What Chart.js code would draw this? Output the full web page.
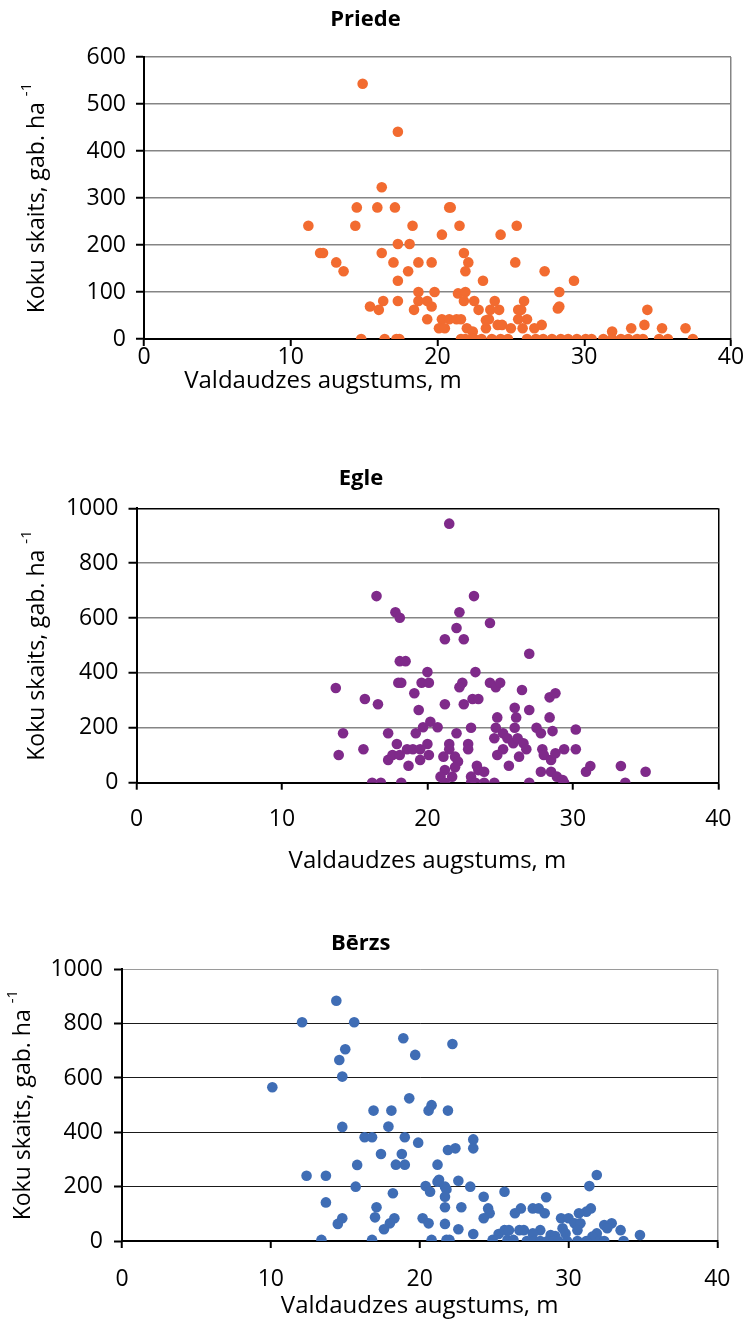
<!DOCTYPE html>
<html>
<head>
<meta charset="utf-8">
<script src="https://cdn.jsdelivr.net/npm/chart.js@4"></script>
<style>
  html, body { margin: 0; padding: 0; background: #fff; }
  #wrap { position: relative; width: 750px; height: 1321px; }
  canvas { position: absolute; left: 0; }
</style>
</head>
<body>
<div id="wrap">
  <canvas id="c1" width="750" height="400" style="top:0px"></canvas>
  <canvas id="c2" width="750" height="440" style="top:440px"></canvas>
  <canvas id="c3" width="750" height="411" style="top:910px"></canvas>
</div>
<script>
// Priede (pine)
const prX = [14.9, 17.3, 16.2, 14.5, 15.9, 17.1, 20.8, 20.9, 11.2, 14.4, 18.3, 21.5, 25.4, 20.3, 24.3,
  17.3, 18.1, 12.0, 12.2, 16.2, 21.8, 13.1, 17.0, 18.7, 19.6, 22.1, 25.3, 13.6, 18.0, 21.9, 27.3,
  17.3, 23.1, 29.3, 18.7, 19.8, 21.4, 21.9, 28.3, 28.2, 28.3, 16.3, 17.3, 18.7, 19.3, 21.8, 22.5,
  23.9, 25.9, 15.4, 16.0, 18.4, 19.6, 22.8, 23.6, 24.2, 25.5, 25.7, 19.3, 20.3, 20.8, 21.3, 21.6,
  23.5, 25.5, 26.1, 24.1, 24.4, 27.1, 20.1, 20.5, 22.0, 22.4, 23.3, 25.0, 25.8, 26.6, 31.9, 33.2,
  34.1, 34.3, 35.3, 36.9, 23.3,
  14.8, 16.4, 17.2, 17.4, 21.6, 21.9, 22.3, 22.5, 23.0, 23.7, 24.3, 24.8, 26.1, 26.7, 27.2, 27.8,
  28.4, 28.9, 29.5, 30.1, 30.5, 31.3, 31.9, 32.5, 33.0, 33.6, 34.0, 35.1, 35.7, 37.4];
const prY = [543, 441, 323, 280, 280, 280, 280, 280, 241, 241, 241, 241, 241, 222, 222,
  202, 202, 183, 183, 183, 183, 163, 163, 163, 163, 163, 163, 144, 144, 144, 144,
  124, 124, 124, 100, 100, 97, 100, 100, 65, 69, 81, 81, 81, 81, 81, 81,
  81, 81, 69, 62, 62, 69, 62, 62, 62, 62, 62, 42, 42, 42, 42, 42,
  42, 42, 42, 30, 30, 30, 23, 23, 23, 16, 23, 23, 23, 23, 16, 23,
  30, 62, 23, 23, 40,
  0, 0, 0, 0, 0, 0, 0, 0, 0, 0, 0, 0, 0, 0, 0, 0,
  0, 0, 0, 0, 0, 0, 0, 0, 0, 0, 0, 0, 0, 0];

// Egle (spruce)
const egX = [13.7, 15.7, 14.2, 13.9, 15.6, 21.5, 16.5, 23.2, 17.8, 18.1, 22.2, 24.3, 22.0, 21.2, 22.5,
  27.0, 18.1, 18.5, 20.0, 23.3, 18.0, 18.2, 19.6, 20.1, 22.4, 22.2, 24.3, 24.7, 25.0, 19.1, 26.5,
  28.4, 28.8, 16.6, 21.2, 22.5, 23.1, 23.5, 19.4, 26.0, 27.0, 24.8, 26.1, 28.4, 20.2, 20.7, 19.7,
  19.2, 17.3, 22.0, 23.0, 24.7, 26.0, 27.5, 27.8, 28.6, 30.2, 24.6, 25.2, 25.5, 25.9, 26.2, 26.6,
  26.8, 20.0, 17.9, 18.6, 19.0, 19.5, 21.5, 21.5, 22.8, 22.8, 25.2, 27.9, 29.4, 30.2, 17.3, 17.6,
  18.1, 20.1, 19.5, 21.1, 21.9, 22.1, 24.8, 26.3, 28.0, 28.5, 28.8, 18.7, 25.6, 21.2, 21.9, 23.4,
  23.5, 23.9, 23.0, 27.8, 28.5, 28.9, 29.3, 30.9, 31.2, 33.3, 35.0, 20.9, 21.7,
  16.2, 16.8, 18.2, 21.2, 23.0, 23.3, 23.9, 24.6, 27.0, 29.4, 33.6];
const egY = [345, 305, 180, 101, 122, 944, 680, 680, 621, 601, 621, 582, 564, 523, 523,
  470, 443, 443, 403, 403, 364, 364, 364, 364, 364, 348, 364, 348, 364, 326, 338,
  311, 326, 286, 286, 286, 305, 305, 265, 273, 265, 238, 238, 238, 222, 202, 202,
  180, 180, 180, 200, 200, 200, 200, 180, 188, 194, 162, 180, 162, 144, 162, 144,
  122, 141, 141, 122, 122, 122, 141, 122, 141, 122, 122, 122, 122, 122, 83, 101,
  101, 101, 83, 95, 95, 77, 101, 95, 101, 83, 107, 62, 62, 46, 56, 62,
  46, 40, 22, 40, 40, 22, 10, 40, 61, 61, 40, 22, 22,
  0, 0, 0, 0, 0, 0, 0, 0, 0, 0, 0];

// Bērzs (birch)
const bzX = [14.4, 12.1, 15.6, 15.0, 14.6, 14.8, 10.1, 14.8, 15.8, 12.4, 13.7, 15.7, 13.7, 14.8, 14.5,
  13.4, 18.9, 19.7, 22.2, 19.3, 20.8, 20.6, 16.9, 18.1, 21.9, 17.9, 16.3, 16.8, 19.0, 19.9, 23.6,
  23.6, 21.9, 22.4, 17.4, 18.8, 18.4, 19.0, 21.2, 18.2, 20.4, 20.7, 21.2, 21.3, 21.7, 21.8, 21.7,
  22.6, 23.4, 24.3, 25.7, 17.1, 17.0, 18.3, 18.0, 17.6, 20.2, 20.6, 21.7, 21.7, 22.8, 22.6, 23.6,
  24.6, 24.7, 24.3, 26.4, 26.8, 16.8, 20.8, 21.8, 22.0, 24.9, 25.3, 25.7, 26.0, 25.9, 26.3, 26.7,
  27.0, 31.9, 31.4, 28.5, 27.6, 28.0, 28.4, 31.5, 31.2, 30.7, 29.5, 30.0, 30.4, 30.8, 28.1, 27.6,
  29.6, 29.8, 30.6, 32.4, 32.9, 32.6, 33.5, 31.9, 31.6, 34.8, 28.8, 29.1,
  27.2, 27.7, 28.1, 28.6, 29.0, 29.3, 29.9, 30.6, 31.2, 32.1, 32.4, 33.7];
const bzY = [884, 805, 805, 706, 666, 605, 566, 420, 280, 240, 240, 200, 142, 84, 63,
  4, 746, 685, 725, 525, 500, 480, 480, 480, 480, 421, 382, 382, 382, 362, 374,
  341, 335, 341, 320, 320, 281, 281, 281, 176, 202, 181, 218, 225, 200, 190, 163,
  222, 200, 163, 181, 124, 87, 84, 65, 43, 84, 65, 124, 63, 124, 43, 26,
  120, 102, 84, 102, 120, 4, 4, 4, 4, 4, 26, 40, 40, 4, 4, 40,
  40, 243, 202, 161, 120, 120, 102, 120, 108, 102, 84, 84, 65, 65, 40, 28,
  47, 28, 40, 59, 65, 47, 40, 28, 16, 22, 22, 18,
  0, 0, 0, 0, 0, 0, 0, 0, 0, 0, 0, 0];

const xTitle = 'Valdaudzes augstums, m';
const yTitleMain = 'Koku skaits, gab. ha ';
const yTitleSup = '-1';
const FONT = '"Open Sans", "Noto Sans", sans-serif';

// axis titles drawn by hand: the y one needs a superscript, the x one sits off-centre in the first chart
const axisTitles = {
  id: 'axisTitles',
  afterDraw(chart, args, opts) {
    const { ctx, chartArea } = chart;
    ctx.save();
    ctx.fillStyle = '#000';
    ctx.textBaseline = 'middle';
    // x title
    ctx.font = '24px ' + FONT;
    ctx.textAlign = 'center';
    const xc = opts.xCenter != null ? opts.xCenter : (chartArea.left + chartArea.right) / 2;
    ctx.fillText(xTitle, xc, opts.xTitleY);
    // y title
    const cy = (chartArea.top + chartArea.bottom) / 2;
    ctx.translate(opts.yTitleX, cy);
    ctx.rotate(-Math.PI / 2);
    ctx.font = '23px ' + FONT;
    const w1 = ctx.measureText(yTitleMain).width;
    ctx.font = '15px ' + FONT;
    const w2 = ctx.measureText(yTitleSup).width;
    const start = -(w1 + w2) / 2;
    ctx.textAlign = 'left';
    ctx.font = '23px ' + FONT;
    ctx.fillText(yTitleMain, start, 0);
    ctx.font = '15px ' + FONT;
    ctx.fillText(yTitleSup, start + w1, -10);
    ctx.restore();
  }
};

function makeChart(id, s) {
  const pts = s.xs.map((x, i) => ({ x: x, y: s.ys[i] }));
  return new Chart(document.getElementById(id), {
    type: 'scatter',
    data: {
      datasets: [{
        data: pts,
        backgroundColor: s.color,
        borderColor: s.color,
        pointRadius: 5.3,
        pointHoverRadius: 5.3,
        borderWidth: 0
      }]
    },
    plugins: [axisTitles],
    options: {
      responsive: false,
      animation: false,
      layout: { padding: { left: 0, right: s.padRight, top: 0, bottom: 0 } },
      plugins: {
        legend: { display: false },
        tooltip: { enabled: false },
        title: {
          display: true,
          text: s.title,
          color: '#000',
          font: { family: FONT, size: 22, weight: 'bold', lineHeight: 1.2 },
          padding: { top: s.titleTop, bottom: s.titleBottom }
        },
        axisTitles: { yTitleX: s.yTitleX, xTitleY: s.xTitleY, xCenter: s.xCenter }
      },
      scales: {
        x: {
          type: 'linear',
          min: 0, max: 40,
          afterFit: sc => { sc.height = s.xHeight; },
          ticks: {
            stepSize: 10, color: '#000', padding: s.xTickPad,
            font: { family: FONT, size: 23, lineHeight: 1 },
            callback: v => String(v)
          },
          grid: {
            drawOnChartArea: true,
            color: c => (c.tick && c.tick.value === 40) ? s.rightColor : 'rgba(0,0,0,0)',
            lineWidth: 1.5,
            tickColor: '#000', tickLength: 7, tickWidth: 2
          },
          border: { color: '#000', width: 2 }
        },
        y: {
          min: 0, max: s.yMax,
          afterFit: sc => { sc.width = s.plotLeft; },
          ticks: {
            stepSize: s.yStep, color: '#000', padding: s.yTickPad,
            font: { family: FONT, size: 23, lineHeight: 1 },
            callback: v => String(v)
          },
          grid: {
            color: c => (c.tick && c.tick.value === s.yMax) ? s.topColor : s.gridColor,
            lineWidth: s.gridWidth,
            tickColor: '#000', tickLength: 8, tickWidth: 2
          },
          border: { color: '#000', width: 2 }
        }
      }
    }
  });
}

makeChart('c1', {
  xs: prX, ys: prY, color: '#F26B30', title: 'Priede',
  yMax: 600, yStep: 100, plotLeft: 144, padRight: 19,
  titleTop: 6.8, titleBottom: 23.8, xHeight: 61, xTickPad: 0, yTickPad: 10,
  yTitleX: 37, xTitleY: 381, xCenter: 323,
  gridColor: '#858585', topColor: '#858585', rightColor: '#858585', gridWidth: 1.5
});

makeChart('c2', {
  xs: egX, ys: egY, color: '#7F2A8A', title: 'Egle',
  yMax: 1000, yStep: 200, plotLeft: 136.5, padRight: 28,
  titleTop: 25.8, titleBottom: 16.1, xHeight: 97.3, xTickPad: 18.5, yTickPad: 10,
  yTitleX: 37, xTitleY: 421, xCenter: null,
  gridColor: '#858585', topColor: '#000', rightColor: '#000', gridWidth: 1.5
});

makeChart('c3', {
  xs: bzX, ys: bzY, color: '#3F6DB5', title: 'Bērzs',
  yMax: 1000, yStep: 200, plotLeft: 122, padRight: 28.7,
  titleTop: 20.8, titleBottom: 12.1, xHeight: 80, xTickPad: 19.5, yTickPad: 11,
  yTitleX: 23, xTitleY: 396, xCenter: null,
  gridColor: '#1a1a1a', topColor: '#9a9a9a', rightColor: '#9a9a9a', gridWidth: 1
});
</script>
</body>
</html>
